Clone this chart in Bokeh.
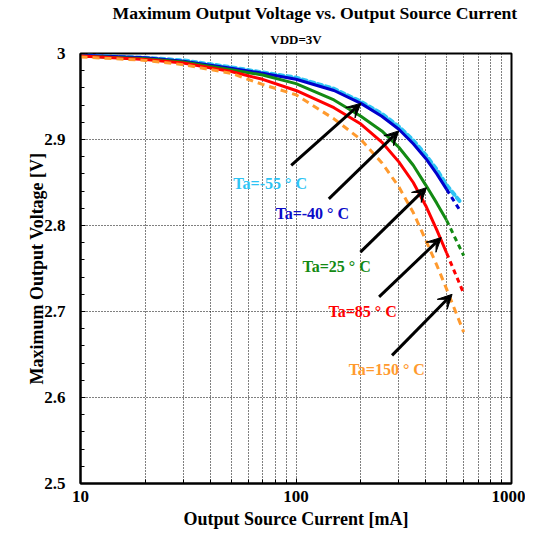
from bokeh.plotting import figure
from bokeh.models import (ColumnDataSource, Arrow, VeeHead, FixedTicker, Title,
                          SingleIntervalTicker, CustomJSTickFormatter, Range1d)
from bokeh.core.properties import value
from bokeh.embed import file_html
from bokeh.resources import INLINE

# ---------------- data ----------------
current = [10, 20, 30, 50, 70, 100, 150, 200, 250, 300, 350, 400, 450, 500]
v_m55 = [2.998, 2.995, 2.992, 2.984, 2.978, 2.972, 2.959, 2.944, 2.930, 2.915, 2.899, 2.882, 2.865, 2.847, 2.826]
cur_m55 = current + [585]
v_m40 = [2.998, 2.995, 2.991, 2.983, 2.977, 2.970, 2.957, 2.942, 2.927, 2.912, 2.895, 2.878, 2.860, 2.842]
v_25 = [2.997, 2.994, 2.990, 2.981, 2.975, 2.965, 2.946, 2.927, 2.910, 2.891, 2.870, 2.847, 2.826, 2.806]
v_85 = [2.997, 2.993, 2.989, 2.979, 2.970, 2.957, 2.937, 2.918, 2.897, 2.874, 2.850, 2.823, 2.795, 2.768]
v_150 = [2.996, 2.992, 2.987, 2.977, 2.964, 2.952, 2.924, 2.900, 2.873, 2.845, 2.815, 2.783, 2.754, 2.726, 2.676]
cur_150 = current + [600]

# extrapolated (dotted) tails
ext_cur_m40 = [500, 575]
ext_v_m40 = [2.842, 2.818]
ext_cur_25 = [500, 600]
ext_v_25 = [2.806, 2.765]
ext_cur_85 = [500, 600]
ext_v_85 = [2.768, 2.721]

# labels (left edge, vertical middle)
label_texts = ["Ta=-55 ° C", "Ta=-40 ° C", "Ta=25 ° C", "Ta=85 ° C", "Ta=150 ° C"]
label_x = [51.2, 80.3, 107.2, 141.6, 175.5]
label_y = [2.849, 2.814, 2.752, 2.700, 2.632]
label_colors = ["#2ec4f4", "#0a0ac8", "#138a13", "#ff0000", "#ff9a2e"]

# arrows (start near label, tip on curve)
arrow_x0 = [95, 142, 199, 243, 279]
arrow_y0 = [2.870, 2.831, 2.769, 2.717, 2.649]
arrow_x1 = [200, 300, 403, 472, 530]
arrow_y1 = [2.942, 2.910, 2.844, 2.786, 2.720]

x_major = [10, 100, 1000]
x_minor = [m * d for d in (10, 100) for m in range(2, 10)]

FONT = "Liberation Serif"

p = figure(x_axis_type="log", x_range=Range1d(10, 1000), y_range=Range1d(2.5, 3.0),
           frame_width=431, frame_height=430, output_backend="svg", toolbar_location=None,
           min_border_left=80, min_border_top=53, min_border_bottom=50, min_border_right=14)
p.background_fill_color = "white"
p.border_fill_color = "white"
p.outline_line_color = "black"
p.outline_line_width = 2

# axes
p.xaxis.ticker = FixedTicker(ticks=x_major, minor_ticks=x_minor)
p.xaxis.formatter = CustomJSTickFormatter(code="return String(Math.round(tick));")
p.yaxis.ticker = SingleIntervalTicker(interval=0.1, num_minor_ticks=5)
p.yaxis.formatter = CustomJSTickFormatter(code="return String(Math.round(tick*10)/10);")
for ax in (p.xaxis, p.yaxis):
    ax.major_tick_in = 5
    ax.major_tick_out = 0
    ax.minor_tick_in = 4
    ax.minor_tick_out = 0
    ax.axis_line_width = 2
    ax.major_tick_line_width = 1
    ax.minor_tick_line_width = 1
    ax.major_label_text_font = FONT
    ax.major_label_text_font_style = "bold"
    ax.major_label_text_font_size = "17px"
    ax.major_label_text_color = "black"
    ax.axis_label_text_font = FONT
    ax.axis_label_text_font_style = "bold"
    ax.axis_label_text_font_size = "18px"
    ax.axis_label_text_color = "black"
p.xaxis.axis_label = "Output Source Current [mA]"
p.yaxis.axis_label = "Maximum Output Voltage [V]"
p.xaxis.major_label_standoff = 7
p.xaxis.axis_label_standoff = 4
p.yaxis.major_label_standoff = 15
p.yaxis.axis_label_standoff = -6

# grid
p.xgrid.grid_line_color = "black"
p.xgrid.grid_line_dash = "1 2"
p.xgrid.grid_line_width = 1
p.xgrid.minor_grid_line_color = "black"
p.xgrid.minor_grid_line_dash = "1 2"
p.xgrid.minor_grid_line_width = 1
p.ygrid.grid_line_color = "black"
p.ygrid.grid_line_dash = "1 2"
p.ygrid.grid_line_width = 1

# curves
p.line(cur_m55, v_m55, line_color="#2ec4f4", line_width=4, line_dash="4 4", line_cap="round")
p.line(current, v_m40, line_color="#0000cc", line_width=3)
p.line(ext_cur_m40, ext_v_m40, line_color="#0000cc", line_width=3, line_dash="5 4")
p.line(current, v_25, line_color="#138a13", line_width=3)
p.line(ext_cur_25, ext_v_25, line_color="#138a13", line_width=3, line_dash="5 4")
p.line(current, v_85, line_color="#ff0000", line_width=3)
p.line(ext_cur_85, ext_v_85, line_color="#ff0000", line_width=3, line_dash="5 4")
p.line(cur_150, v_150, line_color="#ff9a2e", line_width=3, line_dash="7 5")

# arrows
asrc = ColumnDataSource(dict(x0=arrow_x0, y0=arrow_y0, x1=arrow_x1, y1=arrow_y1))
p.add_layout(Arrow(source=asrc, x_start="x0", y_start="y0", x_end="x1", y_end="y1",
                   line_color="black", line_width=3,
                   end=VeeHead(size=14, fill_color="black", line_color="black", line_width=1)))

# curve labels
lsrc = ColumnDataSource(dict(x=label_x, y=label_y, t=label_texts, c=label_colors))
p.text(x="x", y="y", text="t", text_color="c", source=lsrc, text_font=value(FONT),
       text_font_style="bold", text_font_size="16px", text_align="left",
       text_baseline="middle")

# main title (outer) and subtitle (next to the frame)
p.title.text = "Maximum Output Voltage vs. Output Source Current"
p.title.text_font = FONT
p.title.text_font_style = "bold"
p.title.text_font_size = "17.7px"
p.title.text_line_height = 1.0
p.title.align = "left"
p.title.offset = 32
p.title.standoff = 0
p.title.text_color = "black"
p.add_layout(Title(text="VDD=3V", text_font=FONT, text_font_style="bold",
                   text_font_size="13px", text_line_height=1.0, align="center", standoff=14,
                   text_color="black"), "above")

open("out.html", "w").write(file_html(p, INLINE))
